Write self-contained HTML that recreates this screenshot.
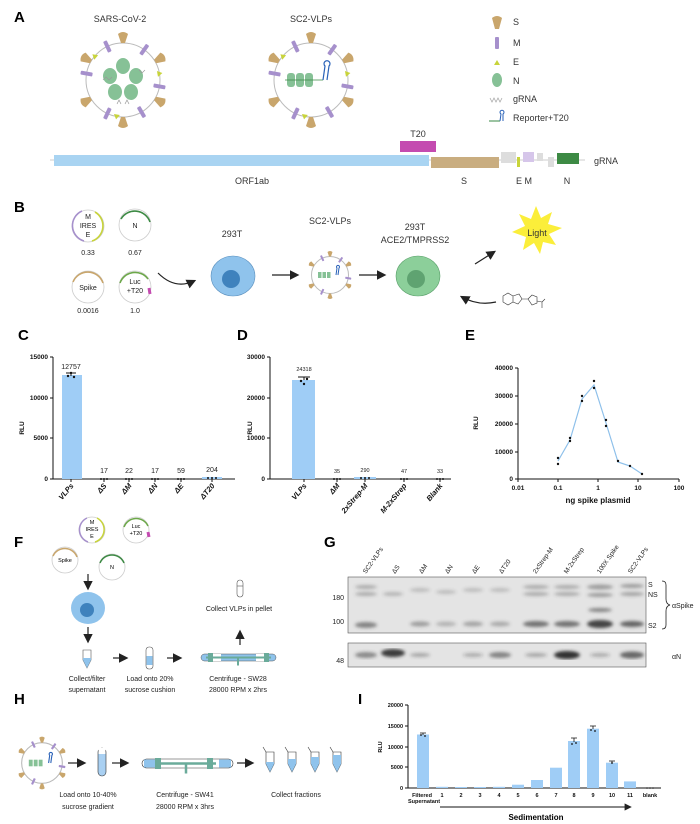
<!DOCTYPE html>
<html><head><meta charset="utf-8"><style>
html,body{margin:0;padding:0;background:#fff;}
svg{display:block;font-family:"Liberation Sans",sans-serif;}
.pl{font-size:15px;font-weight:bold;}
.t{font-size:9px;fill:#333;}
.s{font-size:7px;fill:#222;}
.ax{font-size:6.5px;font-weight:bold;fill:#111;}
.rl{font-size:7.5px;font-weight:bold;font-style:italic;fill:#111;}
</style></head><body>
<svg width="700" height="824" viewBox="0 0 700 824" xmlns="http://www.w3.org/2000/svg">
<defs>
<path id="sp" d="M-2,0 L-5,-9 Q0,-13 5,-9 L2,0 Z" fill="#c9a66c"/>
<rect id="mm" x="-2" y="-6" width="4" height="12" rx="1" fill="#a690cc"/>
<path id="ee" d="M0,-3 L3,2 L-3,2 Z" fill="#c8d43a"/>
<filter id="bl"><feGaussianBlur stdDeviation="1.6"/></filter>
<marker id="ah" markerWidth="8" markerHeight="8" refX="6" refY="4" orient="auto"><path d="M0,0 L8,4 L0,8 Z" fill="#222"/></marker>
</defs>

<!-- Panel A -->
<text x="14" y="22" class="pl">A</text>
<text x="120" y="22" class="t" text-anchor="middle">SARS-CoV-2</text>
<text x="311" y="22" class="t" text-anchor="middle">SC2-VLPs</text>
<g transform="translate(123,80)">
<circle r="37" fill="none" stroke="#bbb" stroke-width="1"/>
<use href="#sp" transform="rotate(0) translate(0,-37)"/><use href="#sp" transform="rotate(180) translate(0,-37)"/>
<use href="#sp" transform="rotate(60) translate(0,-37)"/><use href="#sp" transform="rotate(120) translate(0,-37)"/>
<use href="#sp" transform="rotate(240) translate(0,-37)"/><use href="#sp" transform="rotate(300) translate(0,-37)"/>
<use href="#mm" transform="rotate(-25) translate(0,-37)"/><use href="#mm" transform="rotate(35) translate(0,-37)"/>
<use href="#mm" transform="rotate(-80) translate(0,-37)"/><use href="#mm" transform="rotate(100) translate(0,-37)"/>
<use href="#mm" transform="rotate(150) translate(0,-37)"/><use href="#mm" transform="rotate(205) translate(0,-37)"/>
<use href="#ee" transform="rotate(-50) translate(0,-37)"/><use href="#ee" transform="rotate(80) translate(0,-37)"/><use href="#ee" transform="rotate(190) translate(0,-37)"/>
<g fill="#86c196"><ellipse cx="0" cy="-14" rx="7" ry="8"/><ellipse cx="-13" cy="-4" rx="7" ry="8"/><ellipse cx="13" cy="-4" rx="7" ry="8"/><ellipse cx="-8" cy="12" rx="7" ry="8"/><ellipse cx="8" cy="12" rx="7" ry="8"/></g>
<path d="M-20,0 l3,-3 l3,3 l3,-3 M16,-10 l3,3 l3,-3 M-6,24 l2,-4 l2,4 M2,24 l2,-4 l2,4" stroke="#999" fill="none" stroke-width="0.7"/>
</g>
<g transform="translate(311,80)">
<circle r="37" fill="none" stroke="#bbb" stroke-width="1"/>
<use href="#sp" transform="rotate(0) translate(0,-37)"/><use href="#sp" transform="rotate(180) translate(0,-37)"/>
<use href="#sp" transform="rotate(60) translate(0,-37)"/><use href="#sp" transform="rotate(120) translate(0,-37)"/>
<use href="#sp" transform="rotate(240) translate(0,-37)"/><use href="#sp" transform="rotate(300) translate(0,-37)"/>
<use href="#mm" transform="rotate(-25) translate(0,-37)"/><use href="#mm" transform="rotate(35) translate(0,-37)"/>
<use href="#mm" transform="rotate(-80) translate(0,-37)"/><use href="#mm" transform="rotate(100) translate(0,-37)"/>
<use href="#mm" transform="rotate(150) translate(0,-37)"/><use href="#mm" transform="rotate(205) translate(0,-37)"/>
<use href="#ee" transform="rotate(-50) translate(0,-37)"/><use href="#ee" transform="rotate(80) translate(0,-37)"/><use href="#ee" transform="rotate(190) translate(0,-37)"/>
<g fill="#86c196"><rect x="-24" y="-7" width="8" height="14" rx="3"/><rect x="-15" y="-7" width="8" height="14" rx="3"/><rect x="-6" y="-7" width="8" height="14" rx="3"/></g>
<line x1="-26" y1="0" x2="12" y2="0" stroke="#3a8a44" stroke-width="0.8"/>
<path d="M12,0 L14,-14 a3,3 0 1 1 4,0 L16,0" fill="none" stroke="#2a62b8" stroke-width="1.2"/>
</g>
<!-- legend -->
<path d="M492,18 Q497,14 502,18 L499,29 L495,29 Z" fill="#c9a66c"/>
<text x="513" y="25" class="t">S</text>
<rect x="495" y="37" width="4" height="12" rx="1" fill="#a690cc"/><text x="513" y="46" class="t">M</text>
<use href="#ee" transform="translate(497,63)"/><text x="513" y="65" class="t">E</text>
<ellipse cx="497" cy="80" rx="5" ry="7" fill="#86c196"/><text x="513" y="84" class="t">N</text>
<path d="M490,98 l2,4 l2,-4 l2,4 l2,-4 l2,4 l2,-4" stroke="#aaa" fill="none" stroke-width="0.8"/><text x="513" y="102" class="t">gRNA</text>
<line x1="489" y1="121" x2="500" y2="121" stroke="#3a8a44"/><path d="M500,121 l1,-7 a2,2 0 1 1 2,0 l0,7" stroke="#2a62b8" fill="none"/><text x="513" y="121" class="t">Reporter+T20</text>
<!-- genome -->
<text x="418" y="137" class="t" text-anchor="middle">T20</text>
<line x1="50" y1="160" x2="585" y2="160" stroke="#bbb" stroke-width="0.8"/>
<rect x="400" y="141" width="36" height="11" fill="#c44bb0"/>
<rect x="54" y="155" width="375" height="11" fill="#a9d4f2"/>
<rect x="431" y="157" width="68" height="11" fill="#c9ad80"/>
<rect x="501" y="152" width="15" height="11" fill="#ddd"/>
<rect x="517" y="157" width="3" height="10" fill="#c8d43a"/>
<rect x="523" y="152" width="11" height="10" fill="#d6c6ea"/>
<rect x="537" y="153" width="6" height="8" fill="#ddd"/>
<rect x="548" y="157" width="6" height="10" fill="#ddd"/>
<rect x="557" y="153" width="22" height="11" fill="#3d8a44"/>
<text x="594" y="164" class="t">gRNA</text>
<text x="252" y="184" class="t" text-anchor="middle">ORF1ab</text>
<text x="464" y="184" class="t" text-anchor="middle">S</text>
<text x="524" y="184" class="t" text-anchor="middle">E M</text>
<text x="567" y="184" class="t" text-anchor="middle">N</text>

<!-- Panel B -->
<text x="14" y="212" class="pl">B</text>
<g fill="none" stroke-width="1.6">
<circle cx="88" cy="226" r="16" stroke="#ccc" stroke-width="0.8"/>
<path d="M82,211 A16,16 0 0 0 84,241" stroke="#a690cc"/><path d="M95,212 A16,16 0 0 1 92,241" stroke="#c8d43a"/>
<circle cx="135" cy="225" r="16" stroke="#ccc" stroke-width="0.8"/>
<path d="M121,219 A16,16 0 0 1 150,222" stroke="#3d8a44"/>
<circle cx="88" cy="287" r="16" stroke="#ccc" stroke-width="0.8"/>
<path d="M73,282 A16,16 0 0 1 103,283" stroke="#c9a66c"/>
<circle cx="135" cy="287" r="16" stroke="#ccc" stroke-width="0.8"/>
<path d="M120,283 A16,16 0 0 1 148,279" stroke="#6da84a"/><path d="M149,288 l1,6" stroke="#c44bb0" stroke-width="3"/>
</g>
<text x="88" y="219" class="s" text-anchor="middle">M</text><text x="88" y="228" class="s" text-anchor="middle">IRES</text><text x="88" y="237" class="s" text-anchor="middle">E</text>
<text x="135" y="228" class="s" text-anchor="middle">N</text>
<text x="88" y="255" class="s" text-anchor="middle">0.33</text><text x="135" y="255" class="s" text-anchor="middle">0.67</text>
<text x="88" y="290" class="s" text-anchor="middle">Spike</text>
<text x="135" y="284" class="s" text-anchor="middle">Luc</text><text x="135" y="293" class="s" text-anchor="middle">+T20</text>
<text x="88" y="313" class="s" text-anchor="middle">0.0016</text><text x="135" y="313" class="s" text-anchor="middle">1.0</text>
<path d="M158,273 Q175,290 194,281" fill="none" stroke="#222" stroke-width="1.2" marker-end="url(#ah)"/>
<text x="232" y="237" class="t" text-anchor="middle">293T</text>
<ellipse cx="233" cy="276" rx="22" ry="20" fill="#8fc3ec" stroke="#5a8fbd" stroke-width="0.6"/><circle cx="231" cy="279" r="9" fill="#3f82bd"/>
<line x1="272" y1="275" x2="297" y2="275" stroke="#222" stroke-width="1.2" marker-end="url(#ah)"/>
<text x="330" y="224" class="t" text-anchor="middle">SC2-VLPs</text>
<g transform="translate(330,275) scale(0.5)">
<circle r="37" fill="none" stroke="#bbb" stroke-width="2"/>
<use href="#sp" transform="rotate(0) translate(0,-37)"/><use href="#sp" transform="rotate(180) translate(0,-37)"/>
<use href="#sp" transform="rotate(60) translate(0,-37)"/><use href="#sp" transform="rotate(120) translate(0,-37)"/>
<use href="#sp" transform="rotate(240) translate(0,-37)"/><use href="#sp" transform="rotate(300) translate(0,-37)"/>
<use href="#mm" transform="rotate(-25) translate(0,-37)"/><use href="#mm" transform="rotate(35) translate(0,-37)"/>
<use href="#mm" transform="rotate(100) translate(0,-37)"/><use href="#mm" transform="rotate(205) translate(0,-37)"/>
<g fill="#86c196"><rect x="-24" y="-6" width="7" height="12"/><rect x="-15" y="-6" width="7" height="12"/><rect x="-6" y="-6" width="7" height="12"/></g>
<path d="M12,0 L14,-14 a3,3 0 1 1 4,0 L16,0" fill="none" stroke="#2a62b8" stroke-width="2"/>
</g>
<line x1="359" y1="275" x2="384" y2="275" stroke="#222" stroke-width="1.2" marker-end="url(#ah)"/>
<text x="415" y="230" class="t" text-anchor="middle">293T</text>
<text x="415" y="243" class="t" text-anchor="middle">ACE2/TMPRSS2</text>
<ellipse cx="418" cy="276" rx="22" ry="20" fill="#8ccf9a" stroke="#5aa06a" stroke-width="0.6"/><circle cx="416" cy="279" r="9" fill="#5fa371"/>
<line x1="475" y1="264" x2="494" y2="252" stroke="#222" stroke-width="1.2" marker-end="url(#ah)"/>
<polygon points="536,206 541,218 552,212 548,224 562,228 549,234 556,245 543,242 540,254 534,243 523,250 526,237 512,232 525,226 519,214 531,219" fill="#fbee3a"/>
<text x="537" y="236" class="t" text-anchor="middle">Light</text>
<path d="M496,302 Q478,306 462,297" fill="none" stroke="#222" stroke-width="1.2" marker-end="url(#ah)"/>
<g stroke="#333" stroke-width="0.6" fill="none"><path d="M503,296 l5,-3 l5,3 l0,6 l-5,3 l-5,-3 z M513,296 l6,-2 l3,5 l-4,5 l-5,-2 M522,299 l6,0 M528,299 l4,-4 l5,2 l0,6 l-5,2 z M537,301 l5,1 M542,302 l3,-3 M542,302 l0,6"/></g>

<!-- Panel C -->
<text x="18" y="340" class="pl">C</text>
<g stroke="#111" stroke-width="1" fill="none"><path d="M53,357 L53,479 L235,479"/>
<path d="M50,357h3M50,398h3M50,438h3M50,479h3M71,479v3M104,479v3M129,479v3M155,479v3M181,479v3M212,479v3"/></g>
<g class="ax" text-anchor="end"><text x="48" y="359">15000</text><text x="48" y="400">10000</text><text x="48" y="440">5000</text><text x="48" y="481">0</text></g>
<text transform="translate(24,428) rotate(-90)" class="ax" text-anchor="middle">RLU</text>
<rect x="62" y="375" width="20" height="104" fill="#9fcdf6"/>
<rect x="202" y="477" width="20" height="2" fill="#9fcdf6"/>
<path d="M66,373h10M71,373v3" stroke="#111"/>
<g fill="#111"><circle cx="68" cy="376" r="1.2"/><circle cx="71" cy="373" r="1.2"/><circle cx="74" cy="377" r="1.2"/></g>
<g class="s" text-anchor="middle"><text x="71" y="369">12757</text><text x="104" y="473">17</text><text x="129" y="473">22</text><text x="155" y="473">17</text><text x="181" y="473">59</text><text x="212" y="472">204</text></g>
<g fill="#111"><circle cx="101" cy="479" r="1"/><circle cx="104" cy="479" r="1"/><circle cx="107" cy="479" r="1"/><circle cx="126" cy="479" r="1"/><circle cx="129" cy="479" r="1"/><circle cx="132" cy="479" r="1"/><circle cx="152" cy="479" r="1"/><circle cx="155" cy="479" r="1"/><circle cx="158" cy="479" r="1"/><circle cx="178" cy="479" r="1"/><circle cx="181" cy="479" r="1"/><circle cx="184" cy="479" r="1"/><circle cx="208" cy="478" r="1"/><circle cx="212" cy="478" r="1"/><circle cx="216" cy="478" r="1"/></g>
<g class="rl" text-anchor="end"><text transform="translate(74,486) rotate(-50)">VLPs</text><text transform="translate(107,486) rotate(-50)">ΔS</text><text transform="translate(132,486) rotate(-50)">ΔM</text><text transform="translate(158,486) rotate(-50)">ΔN</text><text transform="translate(184,486) rotate(-50)">ΔE</text><text transform="translate(215,486) rotate(-50)">ΔT20</text></g>

<!-- Panel D -->
<text x="237" y="340" class="pl">D</text>
<g stroke="#111" stroke-width="1" fill="none"><path d="M270,357 L270,479 L451,479"/>
<path d="M267,357h3M267,398h3M267,438h3M267,479h3M304,479v3M337,479v3M365,479v3M404,479v3M440,479v3"/></g>
<g class="ax" text-anchor="end"><text x="265" y="359">30000</text><text x="265" y="400">20000</text><text x="265" y="440">10000</text><text x="265" y="481">0</text></g>
<text transform="translate(252,428) rotate(-90)" class="ax" text-anchor="middle">RLU</text>
<rect x="292" y="380" width="23" height="99" fill="#9fcdf6"/>
<rect x="354" y="477" width="22" height="2" fill="#9fcdf6"/>
<path d="M298,377h12M304,377v3" stroke="#111"/>
<g fill="#111"><circle cx="301" cy="381" r="1.2"/><circle cx="304" cy="384" r="1.2"/><circle cx="307" cy="379" r="1.2"/></g>
<g style="font-size:5.5px" fill="#222" text-anchor="middle"><text x="304" y="371">24318</text><text x="337" y="473">35</text><text x="365" y="472">290</text><text x="404" y="473">47</text><text x="440" y="473">33</text></g>
<g fill="#111"><circle cx="334" cy="479" r="1"/><circle cx="337" cy="479" r="1"/><circle cx="340" cy="479" r="1"/><circle cx="361" cy="478" r="1"/><circle cx="365" cy="478" r="1"/><circle cx="369" cy="478" r="1"/><circle cx="401" cy="479" r="1"/><circle cx="404" cy="479" r="1"/><circle cx="407" cy="479" r="1"/><circle cx="437" cy="479" r="1"/><circle cx="440" cy="479" r="1"/><circle cx="443" cy="479" r="1"/></g>
<g class="rl" text-anchor="end"><text transform="translate(307,486) rotate(-50)">VLPs</text><text transform="translate(340,486) rotate(-50)">ΔM</text><text transform="translate(368,486) rotate(-50)">2xStrep-M</text><text transform="translate(407,486) rotate(-50)">M-2xStrep</text><text transform="translate(443,486) rotate(-50)">Blank</text></g>

<!-- Panel E -->
<text x="465" y="340" class="pl">E</text>
<g stroke="#111" stroke-width="1" fill="none"><path d="M518,368 L518,479 L679,479"/>
<path d="M515,368h3M515,396h3M515,424h3M515,452h3M515,479h3M518,479v3M558,479v3M598,479v3M638,479v3M679,479v3"/></g>
<g class="ax" text-anchor="end"><text x="513" y="370">40000</text><text x="513" y="398">30000</text><text x="513" y="426">20000</text><text x="513" y="454">10000</text><text x="513" y="481">0</text></g>
<g class="ax" text-anchor="middle"><text x="518" y="490">0.01</text><text x="558" y="490">0.1</text><text x="598" y="490">1</text><text x="638" y="490">10</text><text x="679" y="490">100</text></g>
<text x="598" y="503" class="ax" style="font-size:8px" text-anchor="middle">ng spike plasmid</text>
<text transform="translate(478,423) rotate(-90)" class="ax" text-anchor="middle">RLU</text>
<polyline points="558,461 570,440 582,399 594,385 606,423 618,462 630,466 642,474" fill="none" stroke="#8ec0ea" stroke-width="1.2"/>
<g fill="#111"><circle cx="558" cy="458" r="1.2"/><circle cx="558" cy="464" r="1.2"/><circle cx="570" cy="438" r="1.2"/><circle cx="570" cy="441" r="1.2"/><circle cx="582" cy="396" r="1.2"/><circle cx="582" cy="401" r="1.2"/><circle cx="594" cy="381" r="1.2"/><circle cx="594" cy="388" r="1.2"/><circle cx="606" cy="420" r="1.2"/><circle cx="606" cy="426" r="1.2"/><circle cx="618" cy="461" r="1.2"/><circle cx="630" cy="466" r="1.2"/><circle cx="642" cy="474" r="1.2"/></g>

<!-- Panel F -->
<text x="14" y="547" class="pl">F</text>
<g fill="none" stroke-width="1.5">
<circle cx="92" cy="530" r="13" stroke="#ccc" stroke-width="0.8"/><path d="M87,518 A13,13 0 0 0 88,542" stroke="#a690cc"/><path d="M97,518 A13,13 0 0 1 95,542" stroke="#c8d43a"/>
<circle cx="136" cy="530" r="13" stroke="#ccc" stroke-width="0.8"/><path d="M124,527 A13,13 0 0 1 148,526" stroke="#6da84a"/><path d="M148,532 l1,5" stroke="#c44bb0" stroke-width="3"/>
<circle cx="65" cy="560" r="13" stroke="#ccc" stroke-width="0.8"/><path d="M53,556 A13,13 0 0 1 77,557" stroke="#c9a66c"/>
<circle cx="112" cy="567" r="13" stroke="#ccc" stroke-width="0.8"/><path d="M100,563 A13,13 0 0 1 124,563" stroke="#3d8a44"/>
</g>
<text x="92" y="524" style="font-size:5.5px" text-anchor="middle">M</text><text x="92" y="531" style="font-size:5.5px" text-anchor="middle">IRES</text><text x="92" y="538" style="font-size:5.5px" text-anchor="middle">E</text>
<text x="136" y="528" style="font-size:5.5px" text-anchor="middle">Luc</text><text x="136" y="535" style="font-size:5.5px" text-anchor="middle">+T20</text>
<text x="65" y="562" style="font-size:5.5px" text-anchor="middle">Spike</text><text x="112" y="569" style="font-size:5.5px" text-anchor="middle">N</text>
<line x1="88" y1="574" x2="88" y2="588" stroke="#222" stroke-width="1.2" marker-end="url(#ah)"/>
<ellipse cx="88" cy="608" rx="17" ry="16" fill="#8fc3ec"/><circle cx="87" cy="610" r="7" fill="#3f82bd"/>
<line x1="88" y1="627" x2="88" y2="641" stroke="#222" stroke-width="1.2" marker-end="url(#ah)"/>
<path d="M83,650 h8 v10 l-4,8 l-4,-8 z" fill="#fff" stroke="#555" stroke-width="0.6"/><path d="M83,658 h8 v2 l-4,8 l-4,-8 z" fill="#8fc3ec"/>
<line x1="113" y1="658" x2="126" y2="658" stroke="#222" stroke-width="1.2" marker-end="url(#ah)"/>
<rect x="146" y="647" width="7" height="22" rx="3" fill="#fff" stroke="#555" stroke-width="0.6"/><rect x="146.5" y="656" width="6" height="9" fill="#8fc3ec"/>
<line x1="167" y1="658" x2="180" y2="658" stroke="#222" stroke-width="1.2" marker-end="url(#ah)"/>
<rect x="201" y="654" width="75" height="7" rx="3.5" fill="#8fc3ec" stroke="#555" stroke-width="0.5"/>
<rect x="212" y="654" width="9" height="7" fill="#fff"/><rect x="256" y="654" width="9" height="7" fill="#fff"/>
<path d="M206,657.5 h65 M238,657.5 v8" stroke="#6aab9a" stroke-width="2"/><rect x="208" y="653" width="5" height="9" fill="#6aab9a"/><rect x="264" y="653" width="5" height="9" fill="#6aab9a"/>
<line x1="240" y1="645" x2="240" y2="632" stroke="#222" stroke-width="1.2" marker-end="url(#ah)"/>
<rect x="237" y="580" width="6" height="17" rx="3" fill="#fff" stroke="#555" stroke-width="0.6"/><line x1="237" y1="586" x2="243" y2="586" stroke="#555" stroke-width="0.6"/>
<text x="239" y="611" class="s" text-anchor="middle">Collect VLPs in pellet</text>
<g class="s" text-anchor="middle"><text x="87" y="681">Collect/filter</text><text x="87" y="692">supernatant</text><text x="150" y="681">Load onto 20%</text><text x="150" y="692">sucrose cushion</text><text x="238" y="681">Centrifuge - SW28</text><text x="238" y="692">28000 RPM x 2hrs</text></g>

<!-- Panel G -->
<text x="324" y="547" class="pl">G</text>
<g style="font-size:6.5px" fill="#222">
<text transform="translate(366,574) rotate(-55)">SC2-VLPs</text><text transform="translate(395,574) rotate(-55)">ΔS</text><text transform="translate(422,574) rotate(-55)">ΔM</text><text transform="translate(448,574) rotate(-55)">ΔN</text><text transform="translate(475,574) rotate(-55)">ΔE</text><text transform="translate(502,574) rotate(-55)">ΔT20</text><text transform="translate(536,574) rotate(-55)">2xStrep-M</text><text transform="translate(567,574) rotate(-55)">M-2xStrep</text><text transform="translate(600,574) rotate(-55)">100X Spike</text><text transform="translate(631,574) rotate(-55)">SC2-VLPs</text>
</g>
<rect x="348" y="577" width="298" height="56" fill="#e4e4e4" stroke="#555" stroke-width="0.6"/>
<g filter="url(#bl)" fill="#444">
<ellipse cx="366" cy="587" rx="11" ry="2" opacity="0.35"/><ellipse cx="366" cy="594" rx="11" ry="2" opacity="0.35"/><ellipse cx="366" cy="625" rx="11" ry="3" opacity="0.6"/>
<ellipse cx="393" cy="594" rx="10" ry="2" opacity="0.3"/>
<ellipse cx="420" cy="590" rx="10" ry="2" opacity="0.25"/><ellipse cx="420" cy="624" rx="10" ry="2.5" opacity="0.45"/>
<ellipse cx="446" cy="592" rx="10" ry="2" opacity="0.25"/><ellipse cx="446" cy="624" rx="10" ry="2.5" opacity="0.3"/>
<ellipse cx="473" cy="590" rx="10" ry="2" opacity="0.25"/><ellipse cx="473" cy="624" rx="10" ry="2.5" opacity="0.4"/>
<ellipse cx="500" cy="590" rx="10" ry="2" opacity="0.25"/><ellipse cx="500" cy="624" rx="10" ry="2.5" opacity="0.35"/>
<ellipse cx="536" cy="587" rx="13" ry="2" opacity="0.35"/><ellipse cx="536" cy="594" rx="13" ry="2" opacity="0.35"/><ellipse cx="536" cy="624" rx="13" ry="3" opacity="0.7"/>
<ellipse cx="567" cy="587" rx="13" ry="2" opacity="0.35"/><ellipse cx="567" cy="594" rx="13" ry="2" opacity="0.35"/><ellipse cx="567" cy="624" rx="13" ry="3" opacity="0.7"/>
<ellipse cx="600" cy="587" rx="13" ry="2.5" opacity="0.45"/><ellipse cx="600" cy="595" rx="13" ry="2" opacity="0.45"/><ellipse cx="600" cy="610" rx="12" ry="2" opacity="0.6"/><ellipse cx="600" cy="624" rx="13" ry="4" opacity="1"/>
<ellipse cx="632" cy="586" rx="12" ry="2" opacity="0.45"/><ellipse cx="632" cy="594" rx="12" ry="2" opacity="0.4"/><ellipse cx="632" cy="624" rx="12" ry="3" opacity="0.8"/>
</g>
<rect x="348" y="643" width="298" height="24" fill="#e4e4e4" stroke="#555" stroke-width="0.6"/>
<g filter="url(#bl)" fill="#333">
<ellipse cx="366" cy="655" rx="11" ry="3" opacity="0.5"/><ellipse cx="393" cy="653" rx="12" ry="4" opacity="0.95"/><ellipse cx="420" cy="655" rx="10" ry="2" opacity="0.35"/>
<ellipse cx="473" cy="655" rx="10" ry="2" opacity="0.3"/><ellipse cx="500" cy="655" rx="11" ry="3" opacity="0.55"/><ellipse cx="536" cy="655" rx="11" ry="2" opacity="0.35"/>
<ellipse cx="567" cy="655" rx="13" ry="4" opacity="1"/><ellipse cx="600" cy="655" rx="10" ry="2" opacity="0.3"/><ellipse cx="632" cy="655" rx="12" ry="3.5" opacity="0.7"/>
</g>
<g class="s"><text x="344" y="600" text-anchor="end">180</text><text x="344" y="624" text-anchor="end">100</text><text x="344" y="663" text-anchor="end">48</text>
<text x="648" y="587">S</text><text x="648" y="597">NS</text><text x="648" y="628">S2</text><text x="672" y="608">αSpike</text><text x="672" y="659">αN</text></g>
<path d="M662,581 q4,0 4,4 v14 q0,5 4,6 q-4,1 -4,6 v14 q0,4 -4,4" fill="none" stroke="#222" stroke-width="0.8"/>

<!-- Panel H -->
<text x="14" y="704" class="pl">H</text>
<g transform="translate(42,763) scale(0.55)">
<circle r="37" fill="none" stroke="#bbb" stroke-width="2"/>
<use href="#sp" transform="rotate(0) translate(0,-37)"/><use href="#sp" transform="rotate(180) translate(0,-37)"/>
<use href="#sp" transform="rotate(60) translate(0,-37)"/><use href="#sp" transform="rotate(120) translate(0,-37)"/>
<use href="#sp" transform="rotate(240) translate(0,-37)"/><use href="#sp" transform="rotate(300) translate(0,-37)"/>
<use href="#mm" transform="rotate(-25) translate(0,-37)"/><use href="#mm" transform="rotate(35) translate(0,-37)"/>
<use href="#mm" transform="rotate(100) translate(0,-37)"/><use href="#mm" transform="rotate(205) translate(0,-37)"/>
<g fill="#86c196"><rect x="-24" y="-6" width="7" height="12"/><rect x="-15" y="-6" width="7" height="12"/><rect x="-6" y="-6" width="7" height="12"/></g>
<path d="M12,0 L14,-14 a3,3 0 1 1 4,0 L16,0" fill="none" stroke="#2a62b8" stroke-width="2"/>
</g>
<line x1="68" y1="763" x2="84" y2="763" stroke="#222" stroke-width="1.2" marker-end="url(#ah)"/>
<rect x="98" y="748" width="8" height="28" rx="4" fill="#a9d0f2" stroke="#333" stroke-width="0.6"/><rect x="98.5" y="748" width="7" height="6" fill="#fff"/>
<line x1="112" y1="763" x2="127" y2="763" stroke="#222" stroke-width="1.2" marker-end="url(#ah)"/>
<rect x="142" y="759" width="91" height="9" rx="4.5" fill="#fff" stroke="#333" stroke-width="0.6"/>
<rect x="144" y="759.5" width="12" height="8" fill="#8fc3ec"/><rect x="219" y="759.5" width="12" height="8" fill="#8fc3ec"/>
<path d="M158,763.5 h58 M186,763.5 v10" stroke="#6aab9a" stroke-width="2.5"/><rect x="155" y="758" width="6" height="11" fill="#6aab9a"/><rect x="207" y="758" width="6" height="11" fill="#6aab9a"/>
<line x1="237" y1="763" x2="252" y2="763" stroke="#222" stroke-width="1.2" marker-end="url(#ah)"/>
<g stroke="#333" stroke-width="0.6">
<path d="M266,752 h8 v12 l-4,8 l-4,-8 z" fill="#fff"/><path d="M266,762 h8 v2 l-4,8 l-4,-8 z" fill="#8fc3ec" stroke="none"/>
<path d="M288,752 h8 v12 l-4,8 l-4,-8 z" fill="#fff"/><path d="M288,759 h8 v5 l-4,8 l-4,-8 z" fill="#8fc3ec" stroke="none"/>
<path d="M311,752 h8 v12 l-4,8 l-4,-8 z" fill="#fff"/><path d="M311,757 h8 v7 l-4,8 l-4,-8 z" fill="#8fc3ec" stroke="none"/>
<path d="M333,752 h8 v12 l-4,8 l-4,-8 z" fill="#fff"/><path d="M333,755 h8 v9 l-4,8 l-4,-8 z" fill="#8fc3ec" stroke="none"/>
<path d="M266,752 l-3,-5 M288,752 l-3,-5 M311,752 l-3,-5 M333,752 l-3,-5" fill="none"/>
</g>
<g class="s" text-anchor="middle"><text x="88" y="797">Load onto 10-40%</text><text x="88" y="809">sucrose gradient</text><text x="185" y="797">Centrifuge - SW41</text><text x="185" y="809">28000 RPM x 3hrs</text><text x="296" y="797">Collect fractions</text></g>

<!-- Panel I -->
<text x="358" y="704" class="pl">I</text>
<g stroke="#111" stroke-width="1" fill="none"><path d="M408,705 L408,788 L661,788"/>
<path d="M405,705h3M405,726h3M405,747h3M405,767h3M405,788h3"/></g>
<g style="font-size:5.5px;font-weight:bold" fill="#111" text-anchor="end"><text x="403" y="707">20000</text><text x="403" y="728">15000</text><text x="403" y="749">10000</text><text x="403" y="769">5000</text><text x="403" y="790">0</text></g>
<text transform="translate(382,747) rotate(-90)" style="font-size:5.5px;font-weight:bold" text-anchor="middle">RLU</text>
<g fill="#9fcdf6">
<rect x="417" y="734.5" width="12" height="53.5"/><rect x="436" y="786.8" width="12" height="1.2"/><rect x="455" y="787" width="12" height="1"/><rect x="474" y="787" width="12" height="1"/><rect x="493" y="786.8" width="12" height="1.2"/><rect x="512" y="784.7" width="12" height="3.3"/><rect x="531" y="780" width="12" height="8"/><rect x="550" y="767.7" width="12" height="20.3"/><rect x="568" y="741" width="12" height="47"/><rect x="587" y="728.7" width="12" height="59.3"/><rect x="606" y="762.7" width="12" height="25.3"/><rect x="624" y="781.4" width="12" height="6.6"/>
</g>
<g stroke="#111" stroke-width="0.8"><path d="M420,733h6M423,733v2M571,738h6M574,738v4M590,726h6M593,726v3M609,761h6M612,761v2"/></g>
<g fill="#111"><circle cx="421" cy="735" r="0.9"/><circle cx="425" cy="736" r="0.9"/><circle cx="572" cy="744" r="0.9"/><circle cx="576" cy="743" r="0.9"/><circle cx="591" cy="730" r="0.9"/><circle cx="595" cy="731" r="0.9"/><circle cx="612" cy="763" r="0.9"/><circle cx="647" cy="788" r="0.8"/><circle cx="650" cy="788" r="0.8"/><circle cx="653" cy="788" r="0.8"/></g>
<g style="font-size:5.5px;font-weight:bold" fill="#111" text-anchor="middle"><text x="422" y="797">Filtered</text><text x="424" y="803">Supernatant</text><text x="442" y="797">1</text><text x="461" y="797">2</text><text x="480" y="797">3</text><text x="499" y="797">4</text><text x="518" y="797">5</text><text x="537" y="797">6</text><text x="556" y="797">7</text><text x="574" y="797">8</text><text x="593" y="797">9</text><text x="612" y="797">10</text><text x="630" y="797">11</text><text x="650" y="797">blank</text></g>
<line x1="440" y1="807" x2="630" y2="807" stroke="#111" stroke-width="0.9" marker-end="url(#ah)"/>
<text x="536" y="820" style="font-size:8px;font-weight:bold" text-anchor="middle">Sedimentation</text>
</svg>
</body></html>
